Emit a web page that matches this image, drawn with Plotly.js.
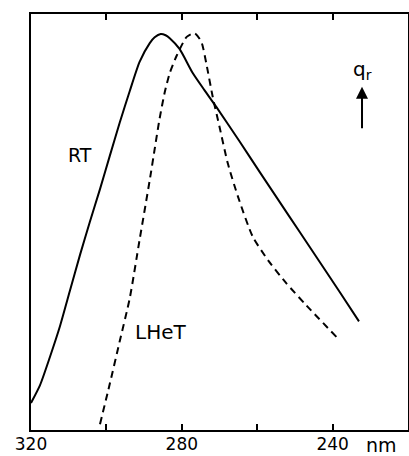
<!DOCTYPE html>
<html>
<head>
<meta charset="utf-8">
<script src="https://cdn.plot.ly/plotly-3.0.1.min.js"></script>
<style>html,body{margin:0;padding:0;background:#fff;}#chart{width:409px;height:456px;}</style>
</head>
<body>
<div id="chart"></div>
<script>
// Wavelength (nm) and relative quantum yield q_r (arbitrary units)
const rtWavelength = [320, 317.6, 315, 312.3, 309.7, 307, 304.4, 301.7, 299.1, 296.5, 293.8, 291.2, 288.5, 287.2, 285.6, 284.3, 283.2, 280.6, 277.1, 274, 270.8, 264.7, 259.4, 254.1, 248.8, 243.5, 238.2, 233];
const rtValues     = [6.5, 10.8, 17.5, 25, 33.4, 42.1, 50, 57.9, 65.9, 73.8, 81.5, 88.5, 93, 94.4, 95.2, 94.9, 94.2, 91.6, 85.8, 81.7, 77.6, 69.4, 62.1, 54.9, 47.7, 40.5, 33.3, 26.1];
const lhetWavelength = [301.7, 299.1, 296.5, 293.8, 291.2, 288.5, 287.2, 285.9, 284.5, 283.2, 281.4, 278.7, 276.6, 274.8, 273.5, 271.8, 270, 267.8, 265.1, 261.2, 256.8, 252.3, 247, 239];
const lhetValues     = [1.4, 11.1, 21.2, 31.7, 45.7, 60.1, 67.5, 74.8, 81.3, 85.8, 89.9, 94.5, 95.4, 93.3, 88.1, 80.1, 72.9, 64.1, 56.1, 46.5, 40.4, 35.3, 30.0, 22.4];
const tickValues = [320, 280, 240];
const tickLabels = ['320', '280', '240'];

const font = 'DejaVu Sans, sans-serif';
const traces = [
  {x: rtWavelength, y: rtValues, mode: 'lines', line: {color: '#000', width: 2, shape: 'spline', smoothing: 0.6}, hoverinfo: 'skip'},
  {x: lhetWavelength, y: lhetValues, mode: 'lines', line: {color: '#000', width: 2, dash: '7px,5px', shape: 'spline', smoothing: 0.6}, hoverinfo: 'skip'}
];
const layout = {
  width: 409, height: 456,
  margin: {l: 31, r: 1, t: 14, b: 26},
  paper_bgcolor: '#fff', plot_bgcolor: '#fff',
  showlegend: false,
  font: {family: font, color: '#000', size: 17},
  xaxis: {
    range: [320, 220], showgrid: false, zeroline: false,
    showline: true, linecolor: '#000', linewidth: 2, mirror: 'ticks',
    ticks: 'inside', ticklen: 6, tickwidth: 2, tickcolor: '#000',
    tickmode: 'array', tickvals: tickValues, ticktext: tickLabels,
    ticklabelstandoff: -2,
    minor: {tickmode: 'linear', tick0: 240, dtick: 20, ticks: 'inside', ticklen: 6, tickwidth: 2, tickcolor: '#000', showgrid: false},
    tickfont: {family: font, size: 17, color: '#000'}
  },
  yaxis: {
    range: [0, 100], showgrid: false, zeroline: false,
    showline: true, linecolor: '#000', linewidth: 2, mirror: true,
    ticks: '', showticklabels: false
  },
  annotations: [
    {x: 307, y: 66.1, xref: 'x', yref: 'y', text: 'RT', showarrow: false, font: {family: font, size: 19, color: '#000'}},
    {x: 285.6, y: 23.6, xref: 'x', yref: 'y', text: 'LHeT', showarrow: false, font: {family: font, size: 20, color: '#000'}},
    {x: 232, y: 86.5, xref: 'x', yref: 'y', text: 'q<sub>r</sub>', showarrow: false, font: {family: font, size: 20, color: '#000'}},
    {x: 232.2, y: 82.5, xref: 'x', yref: 'y', text: '', showarrow: true, ax: 0, ay: 43, arrowhead: 2, arrowsize: 1.2, arrowwidth: 2, arrowcolor: '#000', standoff: 0},
    {x: 0.931, y: -0.036, xref: 'paper', yref: 'paper', xanchor: 'center', yanchor: 'middle', text: 'nm', showarrow: false, font: {family: font, size: 19, color: '#000'}}
  ]
};
Plotly.newPlot('chart', traces, layout, {staticPlot: true, displayModeBar: false});
</script>
</body>
</html>
